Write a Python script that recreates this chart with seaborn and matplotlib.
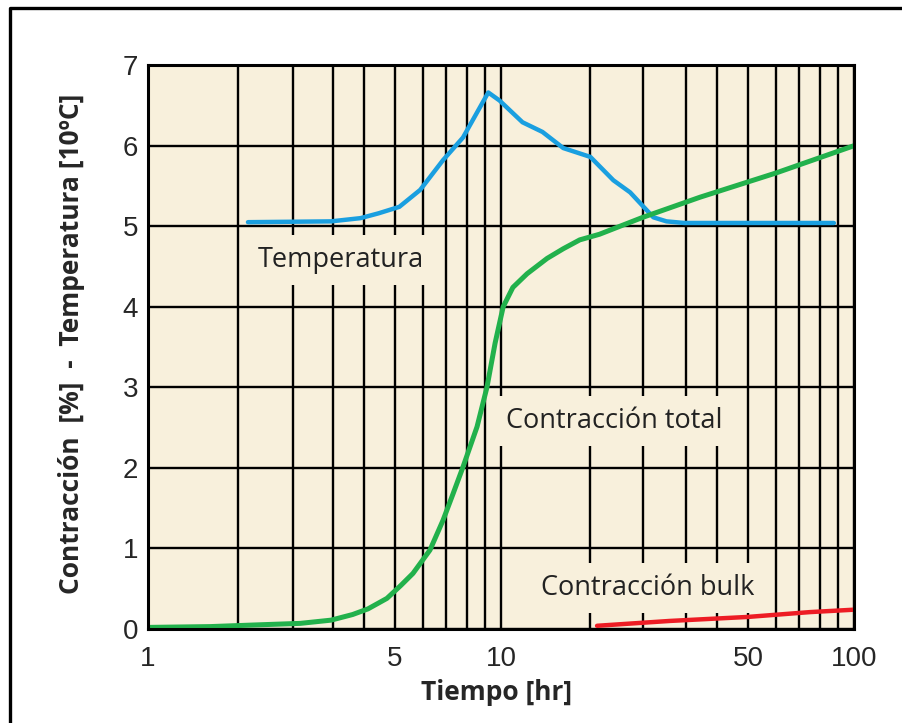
import numpy as np
import pandas as pd
import matplotlib
matplotlib.use("Agg")
import matplotlib.pyplot as plt
from matplotlib.lines import Line2D
import seaborn as sns

# --- data ---
temp_t = [1.92, 3.3, 4.0, 4.5, 5.15, 5.9, 6.85, 7.8, 9.2, 9.9, 11.5, 13.1, 15.0, 17.9, 20.8, 23.2, 27.0, 29.4, 33.0, 50.0, 87.6]
temp_v = [5.05, 5.06, 5.1, 5.16, 5.24, 5.45, 5.82, 6.1, 6.66, 6.56, 6.29, 6.17, 5.97, 5.86, 5.57, 5.42, 5.11, 5.06, 5.04, 5.04, 5.04]

total_t = [1.0, 1.5, 2.0, 2.7, 3.3, 3.8, 4.2, 4.75, 5.2, 5.63, 6.29, 6.85, 7.3, 7.8, 8.55, 9.12, 9.62, 10.14,
           10.8, 11.85, 13.5, 15.0, 16.7, 19.0, 25.2, 36.6, 60.0, 100.0]
total_v = [0.02, 0.03, 0.05, 0.07, 0.11, 0.18, 0.25, 0.38, 0.54, 0.69, 0.98, 1.35, 1.67, 2.01, 2.51, 3.0, 3.55, 4.0,
           4.24, 4.41, 4.6, 4.72, 4.83, 4.9, 5.11, 5.36, 5.66, 6.0]

bulk_t = [18.7, 30.0, 50.0, 75.0, 100.0]
bulk_v = [0.04, 0.10, 0.15, 0.21, 0.24]

x_major = [1, 5, 10, 50, 100]
x_major_labels = ["1", "5", "10", "50", "100"]
x_grid = [1.8, 2.58, 3.34, 4.09, 6, 7, 8, 9, 17.9, 25.2, 33.4, 41, 60, 70, 80, 90]
y_ticks = [0, 1, 2, 3, 4, 5, 6, 7]

temp_df = pd.DataFrame({"t": temp_t, "v": temp_v})
total_df = pd.DataFrame({"t": total_t, "v": total_v})
bulk_df = pd.DataFrame({"t": bulk_t, "v": bulk_v})

sns.set_style("white")
plt.rcParams['font.family'] = ['Open Sans', 'DejaVu Sans']

fig = plt.figure(figsize=(9.02, 7.23), dpi=100)
ax = fig.add_axes([0.164, 0.130, 0.783, 0.780])
ax.set_facecolor('#f8f0dc')

ax.set_xscale('log')
ax.set_xlim(1, 100)
ax.set_ylim(0, 7)

# grid
for x in x_major + x_grid:
    ax.axvline(x, color='black', lw=1.7, zorder=1)
for y in y_ticks:
    ax.axhline(y, color='black', lw=1.7, zorder=1)

sns.lineplot(data=temp_df, x='t', y='v', ax=ax, color='#1a9fe0', lw=3.2, zorder=3, estimator=None, sort=False)
sns.lineplot(data=total_df, x='t', y='v', ax=ax, color='#22b14c', lw=3.6, zorder=4, estimator=None, sort=False)
sns.lineplot(data=bulk_df, x='t', y='v', ax=ax, color='#ed1c24', lw=3.2, zorder=4, estimator=None, sort=False)

box = dict(boxstyle='square,pad=0.4', facecolor='#f8f0dc', edgecolor='none')
ax.text(2.05, 4.58, "Temperatura", fontsize=19.5, color='#222222', va='center', ha='left', bbox=box, zorder=2)
ax.text(10.3, 2.58, "Contracción total", fontsize=19.5, color='#222222', va='center', ha='left', bbox=box, zorder=2)
ax.text(13.0, 0.51, "Contracción bulk", fontsize=19.5, color='#222222', va='center', ha='left', bbox=box, zorder=2)

ax.set_xticks(x_major)
ax.set_xticklabels(x_major_labels)
ax.xaxis.set_minor_locator(matplotlib.ticker.NullLocator())
ax.set_yticks(y_ticks)
ax.tick_params(axis='x', length=0, pad=12, labelsize=20)
ax.tick_params(axis='y', length=0, pad=7, labelsize=20)
for lab in ax.get_xticklabels() + ax.get_yticklabels():
    lab.set_family(['Liberation Sans', 'DejaVu Sans'])

for s in ax.spines.values():
    s.set_color('black')
    s.set_linewidth(2.2)
    s.set_zorder(5)

ax.set_xlabel("Tiempo [hr]", fontsize=19, fontweight='bold')
ax.set_ylabel("Contracción  [%]  -  Temperatura [10ºC]", fontsize=19, fontweight='bold')
ax.xaxis.set_label_coords(0.493, -0.088)
ax.yaxis.set_label_coords(-0.089, 0.505)

# outer frame (left and top edges visible)
fx = 10 / 902
fy = 1 - 8 / 723
fig.add_artist(Line2D([fx, fx, 1.0], [0.0, fy, fy], color='black', lw=2.4, transform=fig.transFigure))

fig.savefig("out.png", dpi=100, facecolor='white')
